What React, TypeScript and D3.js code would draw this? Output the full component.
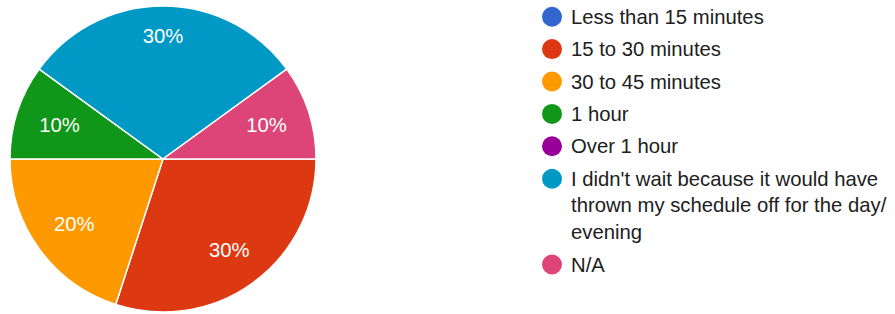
import React from "react";
import * as d3 from "d3";

const categories = [
  "Less than 15 minutes",
  "15 to 30 minutes",
  "30 to 45 minutes",
  "1 hour",
  "Over 1 hour",
  "I didn't wait because it would have thrown my schedule off for the day/ evening",
  "N/A",
];
const legendLines = [
  ["Less than 15 minutes"],
  ["15 to 30 minutes"],
  ["30 to 45 minutes"],
  ["1 hour"],
  ["Over 1 hour"],
  ["I didn't wait because it would have", "thrown my schedule off for the day/", "evening"],
  ["N/A"],
];
const values = [0, 30, 20, 10, 0, 30, 10];
const colors = ["#3366cc", "#dc3912", "#ff9900", "#109618", "#990099", "#0099c6", "#dd4477"];

const W = 895;
const H = 314;
const cx = 163;
const cy = 159;
const R = 153;
const FONT = "Arial, 'Liberation Sans', sans-serif";

export default function App() {
  const total = d3.sum(values);
  const pie = d3
    .pie<number>()
    .sort(null)
    .startAngle(Math.PI / 2)
    .endAngle(Math.PI / 2 + 2 * Math.PI)
    .value((d) => d);
  const arcs = pie(values);
  const arc = d3.arc<d3.PieArcDatum<number>>().innerRadius(0).outerRadius(R);

  const legendX = 552;
  const textX = 571;
  const rowStart = 16.7;
  const rowGap = 32.4;
  const lineGap = 26.7;

  let y = rowStart;
  const legendRows = legendLines.map((lines, i) => {
    const row = { i, y, lines };
    y += rowGap + (lines.length - 1) * lineGap;
    return row;
  });

  return (
    <svg width={W} height={H} style={{ position: "absolute", left: 0, top: 0 }}>
      <rect width={W} height={H} fill="#ffffff" />
      <g transform={`translate(${cx},${cy})`}>
        {arcs.map((a, i) =>
          a.value > 0 ? (
            <path key={i} d={arc(a) || ""} fill={colors[i]} stroke="#ffffff" strokeWidth={1.5} />
          ) : null
        )}
        {arcs.map((a, i) => {
          if (a.value <= 0) return null;
          const mid = (a.startAngle + a.endAngle) / 2;
          const sx = Math.sin(mid);
          const sy = -Math.cos(mid);
          const halfW = 20;
          const halfH = 7;
          const dist = 0.85 * R - (halfW * Math.abs(sx) + halfH * Math.abs(sy));
          const label = `${Math.round((a.value / total) * 100)}%`;
          return (
            <text
              key={`l${i}`}
              x={sx * dist}
              y={sy * dist}
              textAnchor="middle"
              dominantBaseline="central"
              fill="#ffffff"
              fontFamily={FONT}
              fontSize={20.3}
            >
              {label}
            </text>
          );
        })}
      </g>
      <g>
        {legendRows.map((r) => (
          <g key={r.i}>
            <circle cx={legendX} cy={r.y} r={10} fill={colors[r.i]} />
            {r.lines.map((ln, j) => (
              <text
                key={j}
                x={textX}
                y={r.y + j * lineGap}
                dominantBaseline="central"
                fill="#202020"
                fontFamily={FONT}
                fontSize={20.3}
              >
                {ln}
              </text>
            ))}
          </g>
        ))}
      </g>
    </svg>
  );
}
